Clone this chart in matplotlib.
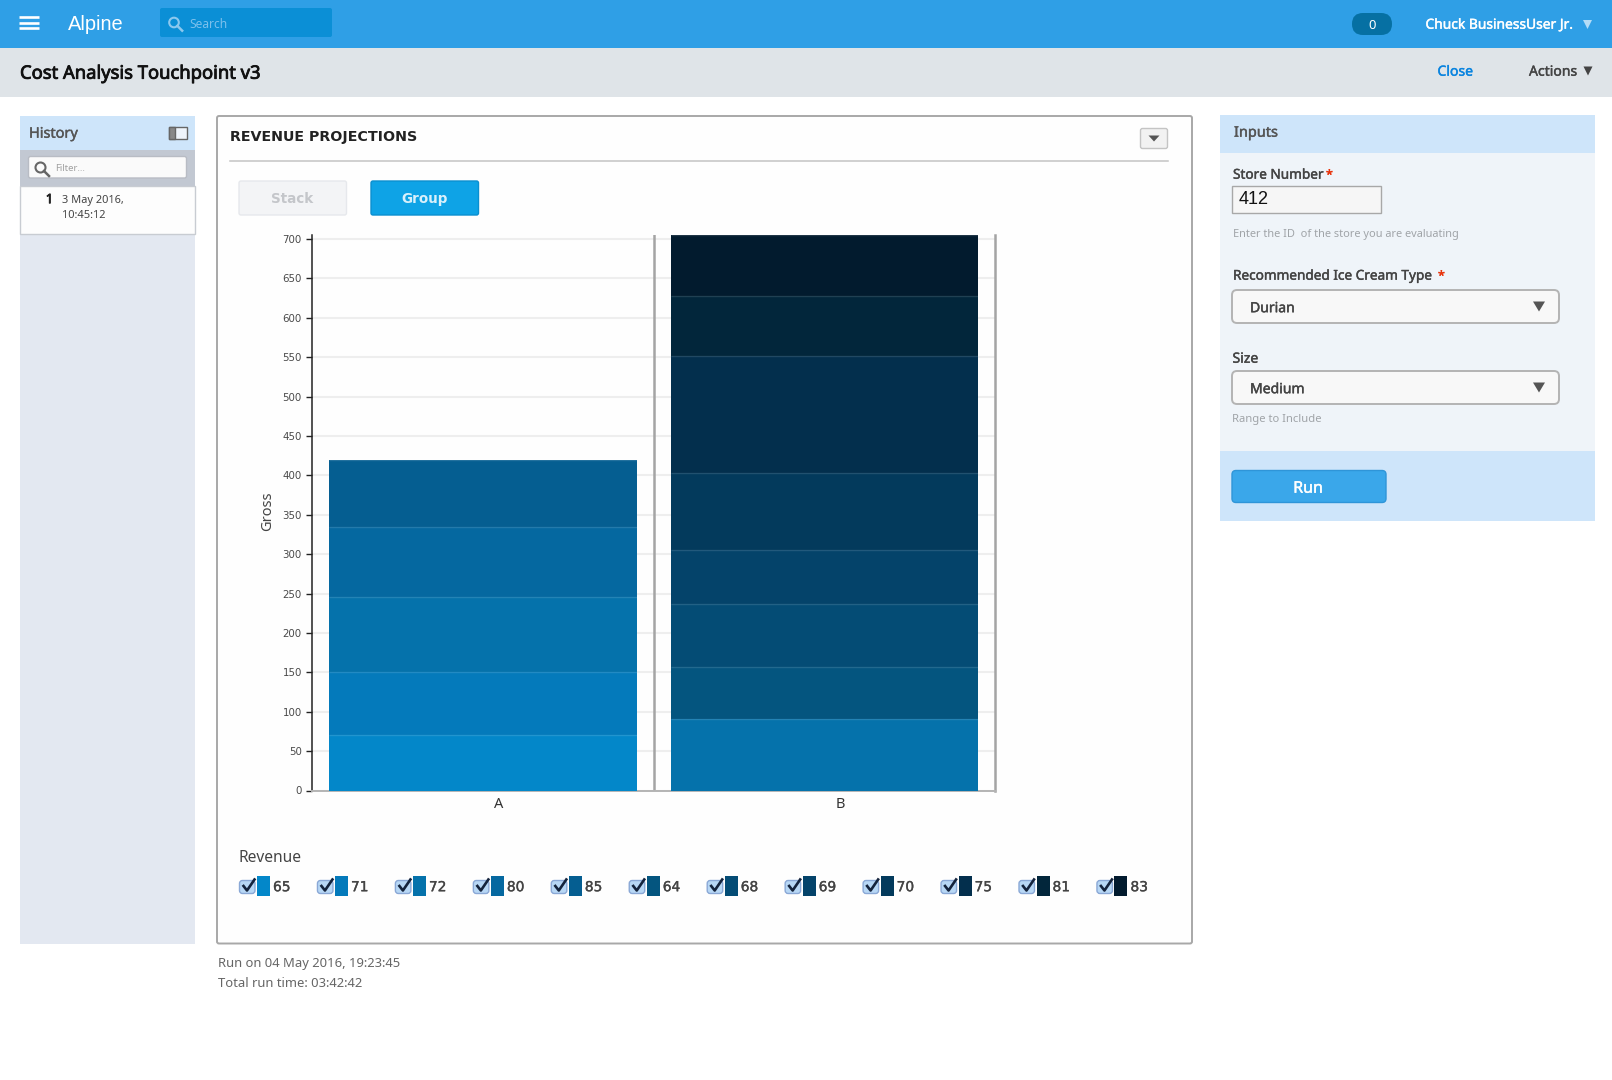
import matplotlib
matplotlib.use('Agg')
import matplotlib.pyplot as plt
import matplotlib.patheffects as pe
from matplotlib.patches import FancyBboxPatch, Rectangle, Polygon, Circle
from matplotlib.transforms import ScaledTranslation

# Data
categories = ['A', 'B']
revenue_labels = ['65', '71', '72', '80', '85', '64', '68', '69', '70', '75', '81', '83']
gross_a = [71, 79, 95, 90, 85, 0, 0, 0, 0, 0, 0, 0]
gross_b = [0, 0, 91, 0, 0, 66, 80, 68, 98, 148, 76, 78]
colors = ['#0387c9', '#047abb', '#0572ab', '#0568a0', '#055e91', '#04557f',
          '#044c75', '#04436a', '#033a5c', '#032f4d', '#02263b', '#021b2e']
y_ticks = list(range(0, 701, 50))

UI_FONT = 'Noto Sans'

fig = plt.figure(figsize=(16.12, 10.8), dpi=100, facecolor='white')
ui = fig.add_axes([0, 0, 1, 1])
ui.set_xlim(0, 1612)
ui.set_ylim(1080, 0)
ui.axis('off')


def rect(x0, y0, x1, y1, fc, ec='none', lw=0):
    ui.add_patch(Rectangle((x0, y0), x1 - x0, y1 - y0, fc=fc, ec=ec, lw=lw))


def rbox(x0, y0, x1, y1, fc, ec='none', lw=0, r=3):
    ui.add_patch(FancyBboxPatch((x0 + r, y0 + r), x1 - x0 - 2 * r, y1 - y0 - 2 * r,
                                boxstyle='round,pad=%g,rounding_size=%g' % (r, r),
                                fc=fc, ec=ec, lw=lw))


# stroke thickens the text, the installed faces have no medium weight
def label(x, y, s, px, color='#444444', stroke=0, ha='left', family=UI_FONT, weight='normal'):
    t = ui.text(x, y + 1.2, s, fontsize=px * 0.72, color=color, ha=ha, va='center',
                family=family, fontweight=weight)
    if stroke:
        t.set_path_effects([pe.withStroke(linewidth=stroke, foreground=color)])


def tri(cx, cy, w, h, color):
    ui.add_patch(Polygon([(cx - w / 2, cy - h / 2), (cx + w / 2, cy - h / 2), (cx, cy + h / 2)],
                         fc=color, ec='none'))


def lens(cx, cy, r, color, lw=1.5):
    ui.add_patch(Circle((cx, cy), r, fc='none', ec=color, lw=lw))
    ui.plot([cx + r * 0.7, cx + r * 1.7], [cy + r * 0.7, cy + r * 1.7], color=color, lw=lw + 0.3)


# top bars
rect(0, 0, 1612, 48, '#2f9fe6')
rect(0, 48, 1612, 97, '#dfe4e8')
for yy in (16.7, 22.7, 28.4):
    ui.plot([19, 38.7], [yy, yy], color='white', lw=1.9, solid_capstyle='butt')
label(68, 23.5, 'Alpine', 20, 'white', family='Liberation Sans')
rbox(160, 8, 332, 37, '#0b8fd6', r=2)
lens(174, 22.5, 4.8, '#8cc8ee')
label(189.5, 23.5, 'Search', 12, '#7cc0ec')
rbox(1352, 13, 1392, 35, '#0670a3', r=10.9)
label(1372, 24, '0', 13, 'white', ha='center')
label(1425.5, 24, 'Chuck BusinessUser Jr.', 13.8, 'white', stroke=0.3)
tri(1587.5, 24.5, 9, 9, '#b5dcf6')
label(20, 72.5, 'Cost Analysis Touchpoint v3', 18.4, '#111111', stroke=0.6)
label(1437.5, 71, 'Close', 14, '#0a84df', stroke=0.3)
label(1529, 71, 'Actions', 14, '#444444', stroke=0.3)
tri(1588, 71, 9, 9, '#444444')

# history panel
rect(20, 116, 195, 944, '#e3e8f1')
rect(20, 116, 195, 150, '#cee5fa')
rect(20, 150, 195, 186, '#c2c8d2')
label(29, 133, 'History', 14.5, '#555555', stroke=0.3)
rect(169, 126.5, 186.5, 139, '#eef4fb', ec='#666666', lw=1)
rect(169, 126.5, 175, 139, '#888888', ec='#666666', lw=1)
rbox(28.5, 156.5, 186.5, 178, '#fafafa', ec='#b8bcc4', lw=1, r=2)
lens(40.5, 167.5, 5, '#666666')
label(55, 167.5, 'Filter...', 9.5, '#a0a0a0')
rect(20, 186, 194.5, 234, '#fdfdfd', ec='#c8ccd2', lw=1)
label(49.5, 198.5, '1', 13, '#222222', stroke=0.6, ha='center')
label(62, 199, '3 May 2016,', 11, '#444444')
label(62, 214, '10:45:12', 11, '#444444')

# main panel
rbox(217, 116, 1192, 943.5, '#fefefe', ec='#a8a8a8', lw=1.4, r=2)
label(230, 135.5, 'REVENUE PROJECTIONS', 14.2, '#222222', family='DejaVu Sans', weight='bold')
ui.plot([230, 1168], [160.5, 160.5], color='#c4c4c4', lw=1.1)
rbox(1140.5, 128.5, 1167.5, 148.5, '#f2f2f2', ec='#c4c4c4', lw=1, r=2)
tri(1154, 138.5, 11, 6, '#555555')
rbox(239, 181, 346.5, 215, '#f3f4f6', ec='#e6e8ec', lw=1, r=2)
label(292.5, 198, 'Stack', 13.5, '#c4c6ca', ha='center', family='DejaVu Sans', weight='bold')
rbox(371, 181, 478.5, 215, '#0ea3e6', ec='#0a8fd0', lw=1, r=2)
label(424.5, 198, 'Group', 13.5, '#d8f0fb', ha='center', family='DejaVu Sans', weight='bold')

# chart
y_zero, y_top, top_val = 790.5, 235.0, 705
left, right = 312.3, 995.0
ax = fig.add_axes([left / 1612, 1 - y_zero / 1080, (right - left) / 1612, (y_zero - y_top) / 1080])
ax.patch.set_alpha(0)
bottom_a, bottom_b = 0, 0
positions = [0.5, 1.5]
bar_width = 0.9
for val_a, val_b, col in zip(gross_a, gross_b, colors):
    if val_a:
        ax.bar(positions[0], val_a, bar_width, bottom=bottom_a, color=col, linewidth=0, zorder=3)
    if val_b:
        ax.bar(positions[1], val_b, bar_width, bottom=bottom_b, color=col, linewidth=0, zorder=3)
    bottom_a += val_a
    bottom_b += val_b
    # faint line on top of each segment
    if val_a:
        ax.hlines(bottom_a, positions[0] - bar_width / 2, positions[0] + bar_width / 2,
                  color='white', alpha=0.12, lw=1, zorder=4)
    if val_b:
        ax.hlines(bottom_b, positions[1] - bar_width / 2, positions[1] + bar_width / 2,
                  color='white', alpha=0.12, lw=1, zorder=4)
ax.set_xlim(0, 2)
ax.set_ylim(0, top_val)
ax.set_yticks(y_ticks)
ax.tick_params(axis='y', length=4.5, width=1, color='#222222', labelsize=7.4, labelcolor='#4a4a4a', pad=3)
ax.grid(axis='y', color='#eeeeee', lw=1.5, zorder=0)
ax.set_axisbelow(True)
ax.axvline(1, color='#a4a4a4', lw=1.8, zorder=2)
ax.spines['top'].set_visible(False)
ax.spines['left'].set_color('#222222')
ax.spines['left'].set_linewidth(1.1)
ax.spines['right'].set_color('#a4a4a4')
ax.spines['right'].set_linewidth(1.8)
ax.spines['bottom'].set_color('#b4b4b4')
ax.spines['bottom'].set_linewidth(1.4)
ax.set_xticks(positions)
ax.set_xticklabels(categories, fontsize=10.5, color='#333333', family=UI_FONT)
ax.tick_params(axis='x', length=0, pad=5)
for tick_label in ax.get_xticklabels():
    tick_label.set_transform(tick_label.get_transform() + ScaledTranslation(0.16, 0, fig.dpi_scale_trans))
ax.set_ylabel('Gross', fontsize=10.5, color='#444444', family=UI_FONT)
ax.yaxis.set_label_coords(-0.055, 0.503)

# legend
label(239, 857, 'Revenue', 15.5, '#444444')
for i, (name, col) in enumerate(zip(revenue_labels, colors)):
    x0 = 239.5 + 77.95 * i
    rbox(x0, 880.5, x0 + 15.5, 893.5, '#b7d7f5', ec='#8aa8d6', lw=1, r=3)
    ui.plot([x0 + 4, x0 + 7.5, x0 + 15], [886, 890.5, 879.5], color='#14233c', lw=1.9)
    rect(x0 + 17.5, 876, x0 + 30.5, 895.5, col)
    label(x0 + 33.5, 886, name, 13.8, '#444444', family='DejaVu Sans', stroke=0.25)

label(217.5, 962, 'Run on 04 May 2016, 19:23:45', 13, '#666666')
label(217.5, 982, 'Total run time: 03:42:42', 13, '#666666')

# inputs panel
rect(1220, 115, 1595, 153, '#cee5fa')
rect(1220, 153, 1595, 451, '#eff4f9')
rect(1220, 451, 1595, 521, '#cee5fa')
label(1234, 132, 'Inputs', 14.5, '#555555', stroke=0.3)
label(1233, 174, 'Store Number', 13.6, '#444444', stroke=0.3)
label(1326, 174, '*', 12.5, '#e8320a', stroke=0.3)
rect(1232, 185.5, 1380.5, 212.5, '#f6f6f6', ec='#a8a8a8', lw=1)
label(1239, 198.5, '412', 18, '#111111', family='Liberation Sans')
label(1233, 233.5, 'Enter the ID  of the store you are evaluating', 11, '#a0a4a8')
label(1233, 275, 'Recommended Ice Cream Type', 13.6, '#444444', stroke=0.3)
label(1438, 275, '*', 12.5, '#e8320a', stroke=0.3)
rbox(1232, 290, 1559, 323, '#f8f8f8', ec='#b4b4b4', lw=1.4, r=5)
label(1250, 307.5, 'Durian', 14, '#444444', stroke=0.3)
tri(1539, 306.5, 12, 10, '#555555')
label(1232.5, 358, 'Size', 14, '#444444', stroke=0.3)
rbox(1232, 371, 1559, 404, '#f8f8f8', ec='#b4b4b4', lw=1.4, r=5)
label(1250, 388.5, 'Medium', 14, '#444444', stroke=0.3)
tri(1539, 387.5, 12, 10, '#555555')
label(1232, 418.5, 'Range to Include', 11.2, '#a0a4a8')
rbox(1232, 470.5, 1386, 502.5, '#3aa7ea', ec='#2f95d8', lw=1, r=4)
label(1308, 487.5, 'Run', 16, 'white', stroke=0.3, ha='center')

fig.savefig('out.png', dpi=100)
